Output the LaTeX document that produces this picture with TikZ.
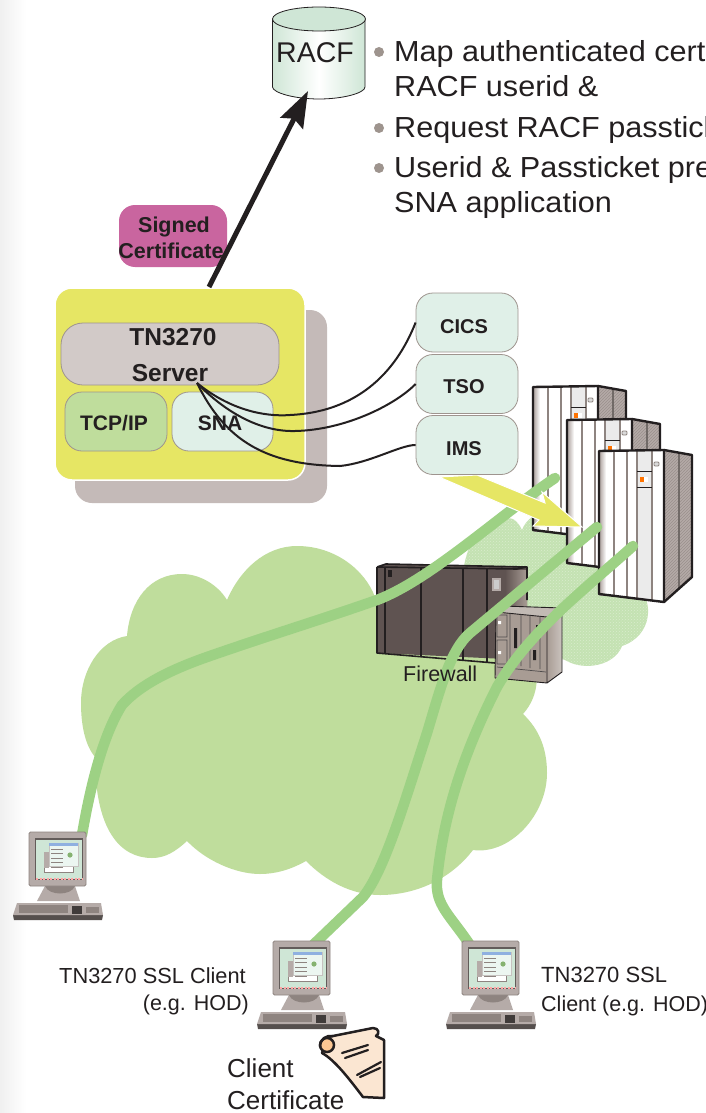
\documentclass[tikz,border=0pt]{standalone}
\usepackage{fontspec}
\usepackage{graphicx}
\setmainfont{Liberation Sans}
\usetikzlibrary{arrows.meta,patterns}
\definecolor{ink}{HTML}{231F20}
\definecolor{cloudA}{HTML}{BFDD9C}
\definecolor{cloudB}{HTML}{C4E2B2}
\definecolor{wire}{HTML}{9DD184}
\definecolor{mint}{HTML}{E0F0E8}
\definecolor{cyl}{HTML}{CFE6D6}
\definecolor{yel}{HTML}{E6E664}
\definecolor{shadowgray}{HTML}{C4BAB8}
\definecolor{srvgray}{HTML}{D2CAC8}
\definecolor{edgegray}{HTML}{9E948E}
\definecolor{pc}{HTML}{B5ABA8}
\definecolor{pcd}{HTML}{8E8480}
\definecolor{sig}{HTML}{C9659F}
\definecolor{fw}{HTML}{5F5351}
\definecolor{bx}{HTML}{A89C94}
\definecolor{scrollc}{HTML}{FBE6D2}
\definecolor{titleblue}{HTML}{8FB0E0}
\newcommand\fsz[1]{\fontsize{#1}{#1}\selectfont}
\newcommand\wide[1]{\scalebox{1.055}[1]{#1}}
\tikzset{
  txt/.style={inner sep=0pt,anchor=base west,text=ink},
  txtr/.style={inner sep=0pt,anchor=base east,text=ink},
  ctext/.style={inner sep=0pt,anchor=base,text=ink},
  bulletdot/.style={circle,fill=edgegray,minimum size=10pt,inner sep=0pt},
  rbox/.style={draw=edgegray,line width=.8pt,rounded corners=17pt,inner sep=0pt,text=ink},
  wireline/.style={draw=wire,line width=10.5pt,line cap=round,line join=round},
  curveline/.style={draw=ink,line width=2pt},
  rack/.pic={
    \fill[white] (0,0)--(65,-1)--(65,151)--(0,143)--cycle;
    \shade[left color=pc,right color=white] (1,0) rectangle (7,144);
    \fill[pc] (65,-1)--(93,4)--(93,126)--(65,151)--cycle;
    \fill[pattern=north east lines,pattern color=pcd!70!pc] (65,-1)--(93,4)--(93,126)--(65,151)--cycle;
    \fill[white!92!black] (38,0)--(53,0)--(53,149)--(38,147)--cycle;
    \foreach \xx in {15,28,38,53} \draw[pcd,line width=1.3pt] (\xx,0)--(\xx,{143+8*\xx/65});
    \draw[pcd!80!black,line width=1.3pt] (80,2)--(80,138);
    \draw[ink,line width=.9pt] (38,20)--(53,20) (38,36)--(53,36);
    \fill[orange!90!red] (41,26) rectangle (45,31);
    \fill[white] (45,26) rectangle (49,31);
    \draw[pcd,fill=white!85!black,line width=.9pt,rounded corners=1pt] (55,11) rectangle (60,15);
    \draw[ink,line width=2.4pt,line join=round] (0,0)--(65,-1)--(65,151)--(0,143)--cycle;
    \draw[ink,line width=2.4pt,line join=round] (65,-1)--(93,4)--(93,126)--(65,151);
  },
  computer/.pic={
    \fill[pc] (16,54)--(46,54)--(51,69)--(8,69)--cycle;
    \fill[pcd] (16,54) .. controls (20,64) and (42,64) .. (46,54)--cycle;
    \fill[pc,draw=pcd,line width=.8pt,rounded corners=1.5pt] (0,0) rectangle (57,54);
    \fill[pcd!70!black] (6,6) rectangle (54,48);
    \fill[cyl] (7,8) rectangle (53,47);
    \fill[white] (15,20) rectangle (44,40);
    \draw[pcd,line width=.6pt] (15,20) rectangle (44,40);
    \fill[pc] (15,20) rectangle (20,36);
    \fill[mint!60!white] (20,11) rectangle (49,34);
    \draw[pcd!50,line width=.5pt] (20,11) rectangle (49,34);
    \fill[titleblue] (20,11) rectangle (49,14);
    \foreach \yy in {17,21,26,30,35} \draw[pcd,line width=1pt] (22,\yy)--(34,\yy);
    \fill[wire!85!black] (41,23) circle (2.6pt);
    \draw[red!35,line width=1.3pt,dash pattern=on 2pt off 1.5pt] (7,47)--(53,47);
    \fill[pcd!60!black] (-16,83)--(74,83)--(73,88)--(-15,88)--cycle;
    \fill[pc] (-12,71)--(72,71)--(74,83)--(-16,83)--cycle;
    \fill[pcd] (-10,73) rectangle (39,81);
    \fill[pcd!45!black] (43,74) rectangle (53,82);
    \fill[pcd] (57,75) rectangle (70,81);
  }
}
\begin{document}
\begin{tikzpicture}[x=1pt,y=-1pt]
\useasboundingbox (0,0) rectangle (706,1113);
\fill[white] (0,0) rectangle (706,1113);
\shade[left color=black!6,right color=white] (0,0) rectangle (26,1113);

% clouds
\fill[cloudB] (463,575) .. controls (465,545) and (480,525) .. (500,522)
  .. controls (510,515) and (516,518) .. (522,530) .. controls (526,520) and (535,510) .. (560,510)
  -- (640,590) .. controls (652,600) and (654,635) .. (622,646)
  .. controls (615,665) and (585,672) .. (565,660) -- (500,640) -- cycle;
\fill[pattern=crosshatch dots,pattern color=cloudB!65!white] (463,575) .. controls (465,545) and (480,525) .. (500,522)
  .. controls (510,515) and (516,518) .. (522,530) .. controls (526,520) and (535,510) .. (560,510)
  -- (640,590) .. controls (652,600) and (654,635) .. (622,646)
  .. controls (615,665) and (585,672) .. (565,660) -- (500,640) -- cycle;
\fill[cloudA] (127,636) .. controls (130,600) and (150,574) .. (182,574)
  .. controls (200,574) and (218,585) .. (227,600)
  .. controls (240,570) and (265,546) .. (297,546)
  .. controls (335,546) and (365,570) .. (375,597)
  -- (530,650) .. controls (540,670) and (540,695) .. (523,714)
  .. controls (540,730) and (547,750) .. (547,773)
  .. controls (547,815) and (510,855) .. (473,850)
  .. controls (450,880) and (415,895) .. (380,895)
  .. controls (350,895) and (325,880) .. (306,861)
  .. controls (290,870) and (275,874) .. (260,874)
  .. controls (235,874) and (205,860) .. (187,841)
  .. controls (175,852) and (165,858) .. (152,858)
  .. controls (120,858) and (95,830) .. (95,757)
  .. controls (85,745) and (81,725) .. (81,703)
  .. controls (81,670) and (100,640) .. (127,636) -- cycle;

% firewall
\fill[fw] (377,567)--(386,564)--(527,567)--(527,660)--(377,653)--cycle;
\shade[left color=fw,right color=bx] (505,570) rectangle (527,660);
\draw[ink,line width=1.6pt,line join=round] (377,567)--(386,564)--(527,567)--(527,600) (377,567)--(517,569)--(527,567) (377,567)--(377,653)--(495,663);
\foreach \xx in {385,421,463,487} \draw[ink,line width=1.4pt] (\xx,568)--(\xx,{653+(\xx-377)*10/118});
\draw[pc,fill=white!80!black,line width=1.5pt] (493,579) rectangle (500,590);
\fill[ink] (388,570) rectangle (392,577);

% switch box
\fill[bx!70!white] (496,612)--(503,606)--(562,608)--(547,617)--cycle;
\shade[left color=bx,right color=bx!60!white] (547,617)--(562,608)--(562,672)--(547,683)--cycle;
\fill[bx] (496,612)--(547,617)--(547,683)--(495,678)--cycle;
\draw[ink,line width=.9pt,line join=round] (496,612)--(503,606)--(562,608)--(562,672)--(547,683)--(495,678)--(496,612)--(547,617)--(547,683) (547,617)--(562,608);
\draw[ink!80,line width=.7pt] (497,615) rectangle (507,637) (497,640) rectangle (507,664) (497,667)--(546,672) (510,613)--(510,666) (521,614)--(521,666) (530,615)--(530,668) (540,616)--(540,669);
\fill[white] (498,621) rectangle (501,624) (498,651) rectangle (501,654);
\fill[ink] (514,628) rectangle (517,648) (536,625) rectangle (539,635) (543,620) rectangle (546,628) (533,650) rectangle (536,660);

% mainframes
\pic at (533,387) {rack};
\pic at (567,420) {rack};
\pic at (599,451) {rack};

% connectors on the clouds
\draw[wireline] (82,835) .. controls (88,800) and (100,740) .. (122,705)
  .. controls (140,685) and (170,670) .. (207,657)
  .. controls (270,635) and (320,620) .. (377,600)
  .. controls (430,580) and (500,515) .. (555,478);
\draw[wireline] (313,945) -- (363,897) .. controls (385,870) and (405,800) .. (427,733)
  .. controls (440,690) and (450,650) .. (470,633) -- (597,527);
\draw[wireline] (470,945) .. controls (450,915) and (435,905) .. (437,880)
  .. controls (442,830) and (455,770) .. (497,687)
  .. controls (530,630) and (590,585) .. (633,546);

% yellow arrow
\fill[yel,draw=white,line width=1pt,line join=miter] (439,477)--(477,475)--(545,503)--(542,492)--(582,527)--(533,526)--(539,520)--cycle;

\node[txt,font=\fsz{21.5}] (firewall) at (403,681) {Firewall};

% RACF database
\shade[left color=cyl,right color=cyl,middle color=white,draw=ink,line width=.8pt]
  (272.5,19) -- (272.5,87) .. controls (273,93) and (295,99) .. (319,99) .. controls (343,99) and (365,93) .. (365,87) -- (365,19) -- cycle;
\draw[ink,line width=.8pt,fill=cyl] (319,19) ellipse [x radius=46.5,y radius=12];
\node[ctext,font=\fsz{28.5}] (racf) at (315,63) {RACF};
\coordinate (racfbottom) at (308,91);

% bullet text
\node[bulletdot] (b1) at (379,52) {};
\node[bulletdot] (b2) at (379,128) {};
\node[bulletdot] (b3) at (379,168) {};
\node[txt,font=\fsz{29}] (t1) at (394,62) {\wide{Map authenticated cert}};
\node[txt,font=\fsz{29}] (t2) at (394,97) {\wide{RACF userid \&}};
\node[txt,font=\fsz{29}] (t3) at (394,137) {\wide{Request RACF passtick}};
\node[txt,font=\fsz{29}] (t4) at (394,177) {\wide{Userid \& Passticket pre}};
\node[txt,font=\fsz{29}] (t5) at (394,212) {\wide{SNA application}};

% server block
\fill[shadowgray,rounded corners=17pt] (75,310) rectangle (327,503);
\node[draw=white,line width=1.5pt,fill=yel,rounded corners=17pt,minimum width=250pt,minimum height=192pt,inner sep=0pt] (tnbox) at (180,384) {};
\node[rbox,fill=srvgray,rounded corners=22pt,minimum width=218pt,minimum height=62pt] (server) at (170,354) {};
\node[ctext,font=\bfseries\fsz{24.5}] (srv1) at (173,345) {TN3270};
\node[ctext,font=\bfseries\fsz{24.5}] (srv2) at (170,381) {Server};
\node[rbox,fill=cloudA,minimum width=102pt,minimum height=59pt] (tcp) at (116,421.5) {};
\node[ctext,font=\bfseries\fsz{21}] (tcptext) at (114,430) {TCP/IP};
\node[rbox,fill=mint,minimum width=101pt,minimum height=59pt] (sna) at (222.5,421.5) {};
\node[ctext,font=\bfseries\fsz{21}] (snatext) at (220,430) {SNA};

% signed certificate
\node[fill=sig,rounded corners=16pt,minimum width=108pt,minimum height=62pt,inner sep=0pt] (signed) at (173,236) {};
\node[ctext,font=\bfseries\fsz{21.5}] (sg1) at (174,232) {Signed};
\node[ctext,font=\bfseries\fsz{21.5}] (sg2) at (171,258) {Certificate};

% main arrow
\coordinate (arrowstart) at (209,287);
\draw[ink,line width=5pt,-{Stealth[length=36pt,width=25pt,inset=5pt]}] (arrowstart) -- (racfbottom);

% subsystems
\node[rbox,fill=mint,minimum width=102pt,minimum height=59pt] (cics) at (467,322.5) {};
\node[rbox,fill=mint,minimum width=102pt,minimum height=59pt] (tso) at (467,384) {};
\node[rbox,fill=mint,minimum width=102pt,minimum height=59pt] (ims) at (467,445) {};
\node[ctext,font=\bfseries\fsz{20}] (cicst) at (464,333) {CICS};
\node[ctext,font=\bfseries\fsz{20}] (tsot) at (464,393) {TSO};
\node[ctext,font=\bfseries\fsz{20}] (imst) at (464,455) {IMS};
\coordinate (tap) at (197,383);
\draw[curveline] (tap) .. controls (230,410) and (265,417) .. (290,415) .. controls (355,412) and (395,375) .. (cics.west);
\draw[curveline] (tap) .. controls (225,412) and (260,432) .. (295,431) .. controls (345,430) and (395,405) .. (tso.west);
\draw[curveline] (tap) .. controls (225,440) and (265,465) .. (340,466) .. controls (370,463) and (400,445) .. (ims.west);

% computers
\pic at (29,832) {computer};
\pic at (273,941) {computer};
\pic at (462,941) {computer};

% labels
\node[txtr,font=\fsz{21.8}] (c1a) at (246,983) {TN3270 SSL Client};
\node[txtr,font=\fsz{21.5}] (c1b) at (249,1010) {(e.g. HOD)};
\node[txt,font=\fsz{22}] (c2a) at (541,982) {TN3270 SSL};
\node[txt,font=\fsz{21.5}] (c2b) at (541,1011) {Client (e.g. HOD)};
\node[txt,font=\fsz{26}] (cc1) at (227,1077) {Client};
\node[txt,font=\fsz{26}] (cc2) at (227,1109) {Certificate};

% scroll
\draw[ink,line width=2.5pt,fill=scrollc,line join=round] (328,1037) -- (373,1028) .. controls (379,1028) and (380,1034) .. (376,1036) -- (384,1040) -- (384,1098) -- (363,1097) .. controls (350,1080) and (335,1060) .. (322,1053) -- cycle;
\draw[ink,line width=2.5pt,fill=scrollc!70!orange] (327,1045) circle (7pt);
\draw[ink,line width=2.5pt] (320,1047) .. controls (320,1039) and (326,1035) .. (333,1036);
\draw[ink,line width=2.2pt,line cap=round] (342,1053)--(368,1045) (345,1058)--(368,1050) (357,1075)--(381,1062) (360,1077)--(380,1068);
\end{tikzpicture}
\end{document}
